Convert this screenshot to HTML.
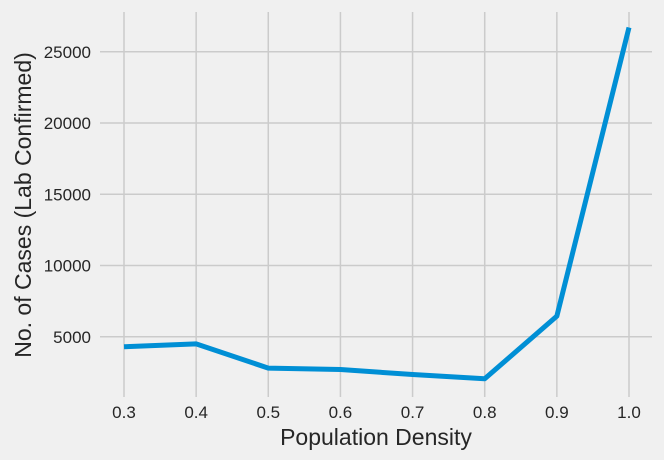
<!DOCTYPE html>
<html><head><meta charset="utf-8"><style>
html,body{margin:0;padding:0;background:#f0f0f0;}
svg{display:block;font-family:"Liberation Sans","DejaVu Sans",sans-serif;}
</style></head><body>
<svg id="chart" width="664" height="460">
<rect width="664" height="460" fill="#f0f0f0"/>
<g id="grid"></g><g id="ticks"></g><g id="series"></g>
<text x="376" y="445" text-anchor="middle" font-size="23" fill="#262626">Population Density</text>
<text transform="translate(31,205) rotate(-90)" text-anchor="middle" font-size="23" fill="#262626">No. of Cases (Lab Confirmed)</text>
</svg>
<script>
const categories=[0.3,0.4,0.5,0.6,0.7,0.8,0.9,1.0];
const cases=[4300,4500,2800,2700,2350,2050,6450,26700];
const xTicks=[0.3,0.4,0.5,0.6,0.7,0.8,0.9,1.0];
const xTickLabels=["0.3","0.4","0.5","0.6","0.7","0.8","0.9","1.0"];
const yTicks=[5000,10000,15000,20000,25000];
const yTickLabels=["5000","10000","15000","20000","25000"];

const NS="http://www.w3.org/2000/svg";
function xs(v){return 124+(v-0.3)/0.7*(629-124);}
function ys(v){return 408-v/5000*71.25;}
const grid=document.getElementById('grid'),ticks=document.getElementById('ticks'),series=document.getElementById('series');
function mk(tag,attrs,parent){const e=document.createElementNS(NS,tag);for(const k in attrs)e.setAttribute(k,attrs[k]);parent.appendChild(e);return e;}
xTicks.forEach((v,i)=>{
  const l=mk('line',{x1:xs(v),x2:xs(v),y1:12,y2:397,stroke:'#cbcbcb','stroke-width':1.5},grid);
  
  
  const t=mk('text',{x:xs(v),y:418,'text-anchor':'middle','font-size':17,fill:'#262626'},ticks);
  t.textContent=xTickLabels[i];
  
  
});
yTicks.forEach((v,i)=>{
  const l=mk('line',{x1:100,x2:652,y1:ys(v),y2:ys(v),stroke:'#cbcbcb','stroke-width':1.5},grid);
  
  
  const t=mk('text',{x:91,y:ys(v)+6,'text-anchor':'end','font-size':17,fill:'#262626'},ticks);
  t.textContent=yTickLabels[i];
  
  
});
const pts=categories.map((c,i)=>xs(c)+','+ys(cases[i])).join(' ');
const pl=mk('polyline',{points:pts,fill:'none',stroke:'#008fd5','stroke-width':5,'stroke-linejoin':'round','stroke-linecap':'butt'},series);


</script>
</body></html>
